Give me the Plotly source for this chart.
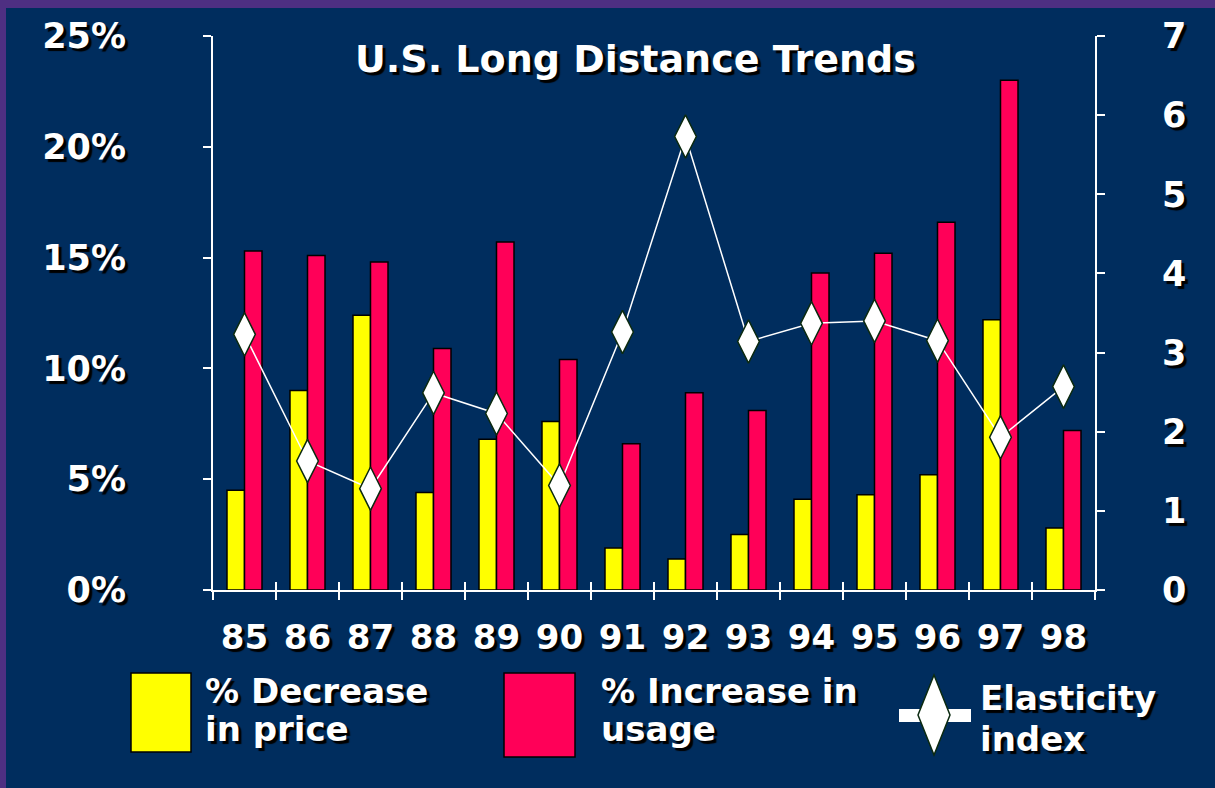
import plotly.graph_objects as go

# ---- data -------------------------------------------------------------
years = ["85", "86", "87", "88", "89", "90", "91", "92", "93", "94", "95", "96", "97", "98"]
price_decrease = [4.5, 9.0, 12.4, 4.4, 6.8, 7.6, 1.9, 1.4, 2.5, 4.1, 4.3, 5.2, 12.2, 2.8]
usage_increase = [15.3, 15.1, 14.8, 10.9, 15.7, 10.4, 6.6, 8.9, 8.1, 14.3, 15.2, 16.6, 23.0, 7.2]
elasticity = [3.23, 1.63, 1.28, 2.49, 2.23, 1.32, 3.26, 5.73, 3.14, 3.37, 3.40, 3.15, 1.93, 2.57]

left_ticks = [0, 5, 10, 15, 20, 25]
left_labels = ["0%", "5%", "10%", "15%", "20%", "25%"]
right_ticks = [0, 1, 2, 3, 4, 5, 6, 7]

# ---- styling ------------------------------------------------------------
W, H = 1215, 788
L, R, T, B = 213, 1095, 36, 590          # plot-area edges in pixels
NAVY = "rgb(0,45,94)"
PURPLE = "rgb(78,47,130)"
YELLOW = "#FFFF00"
RED = "#FF0058"
FONT = "DejaVu Sans"
SHADOW = "3px 3px 1px #000"


def px(x):
    return (x - L) / (R - L)


def py(y):
    return (B - y) / (B - T)


def tfont(size):
    return dict(family=FONT, size=size, color="white", weight="bold", shadow=SHADOW)


fig = go.Figure()

fig.add_trace(go.Bar(
    x=years, y=price_decrease, name="% Decrease in price",
    marker=dict(color=YELLOW, line=dict(color="black", width=1.5)),
))
fig.add_trace(go.Bar(
    x=years, y=usage_increase, name="% Increase in usage",
    marker=dict(color=RED, line=dict(color="black", width=1.5)),
))
fig.add_trace(go.Scatter(
    x=years, y=elasticity, name="Elasticity index",
    xaxis="x2", yaxis="y2", mode="lines+markers",
    line=dict(color="white", width=1.5),
    marker=dict(symbol="diamond-tall", size=31, color="white",
                line=dict(color="#0b2a10", width=1.5)),
))

axis_common = dict(showgrid=False, zeroline=False, linecolor="white", linewidth=2,
                   tickcolor="white", tickwidth=2, ticklen=8)

fig.update_layout(
    width=W, height=H,
    margin=dict(l=L, r=W - R, t=T, b=H - B),
    paper_bgcolor=NAVY, plot_bgcolor=NAVY,
    showlegend=False,
    barmode="group", bargap=0.444, bargroupgap=0,
    xaxis=dict(**axis_common, type="category", categoryorder="array", categoryarray=years,
               range=[-0.5, len(years) - 0.5], showline=True, ticks="outside",
               tickson="boundaries", tickfont=tfont(34), ticklabelstandoff=16),
    xaxis2=dict(**axis_common, type="category", categoryorder="array", categoryarray=years,
                range=[-0.5, len(years) - 0.5], overlaying="x", anchor="y",
                side="bottom", showline=False, ticks="inside", tickson="boundaries",
                showticklabels=False),
    yaxis=dict(**axis_common, range=[0, 25], tickvals=left_ticks, ticktext=left_labels,
               showline=True, ticks="outside", tickfont=tfont(35), ticklabelstandoff=70),
    yaxis3=dict(**axis_common, range=[0, 25], tickvals=left_ticks, overlaying="y",
                anchor="x", side="left", showline=False, ticks="inside",
                showticklabels=False),
    yaxis2=dict(**axis_common, range=[0, 7], tickvals=right_ticks, overlaying="y",
                anchor="x", side="right", showline=True, ticks="outside",
                tickfont=tfont(35), ticklabelstandoff=50),
    yaxis4=dict(**axis_common, range=[0, 7], tickvals=right_ticks, overlaying="y",
                anchor="x", side="right", showline=False, ticks="inside",
                showticklabels=False),
)

# frame strips along the top and left edges of the slide
shapes = [
    dict(type="rect", xref="paper", yref="paper", x0=px(0), x1=px(6), y0=py(H), y1=py(0),
         fillcolor=PURPLE, line=dict(width=0), layer="below"),
    dict(type="rect", xref="paper", yref="paper", x0=px(0), x1=px(W), y0=py(8), y1=py(0),
         fillcolor=PURPLE, line=dict(width=0), layer="below"),
]

# legend swatches
shapes += [
    dict(type="rect", xref="paper", yref="paper", x0=px(131), x1=px(191), y0=py(752), y1=py(673),
         fillcolor=YELLOW, line=dict(color="black", width=1.5)),
    dict(type="rect", xref="paper", yref="paper", x0=px(504), x1=px(575), y0=py(757), y1=py(673),
         fillcolor=RED, line=dict(color="black", width=1.5)),
    dict(type="rect", xref="paper", yref="paper", x0=px(899), x1=px(971), y0=py(722), y1=py(709),
         fillcolor="white", line=dict(width=0)),
]
cx, cy, hw, hh = 934, 715, 16, 40
diamond = "M {},{} L {},{} L {},{} L {},{} Z".format(
    px(cx), py(cy - hh), px(cx + hw), py(cy), px(cx), py(cy + hh), px(cx - hw), py(cy))
shapes.append(dict(type="path", xref="paper", yref="paper", path=diamond,
                   fillcolor="white", line=dict(color="#0b2a10", width=1.5)))
fig.update_layout(shapes=shapes)

LEG = 34
annotations = [
    dict(text="U.S. Long Distance Trends", x=px(635), y=py(59), xanchor="center",
         yanchor="middle", font=tfont(38)),
    dict(text="% Decrease", x=px(203), y=py(691), font=tfont(LEG)),
    dict(text="in price", x=px(203), y=py(729), font=tfont(LEG)),
    dict(text="% Increase in", x=px(599), y=py(691), font=tfont(LEG)),
    dict(text="usage", x=px(599), y=py(729), font=tfont(LEG)),
    dict(text="Elasticity", x=px(978), y=py(698), font=tfont(LEG)),
    dict(text="index", x=px(978), y=py(739), font=tfont(LEG)),
]
for a in annotations:
    a.setdefault("xanchor", "left")
    a.setdefault("yanchor", "middle")
    a.update(xref="paper", yref="paper", showarrow=False)
fig.update_layout(annotations=annotations)

fig.write_html("out.html")
